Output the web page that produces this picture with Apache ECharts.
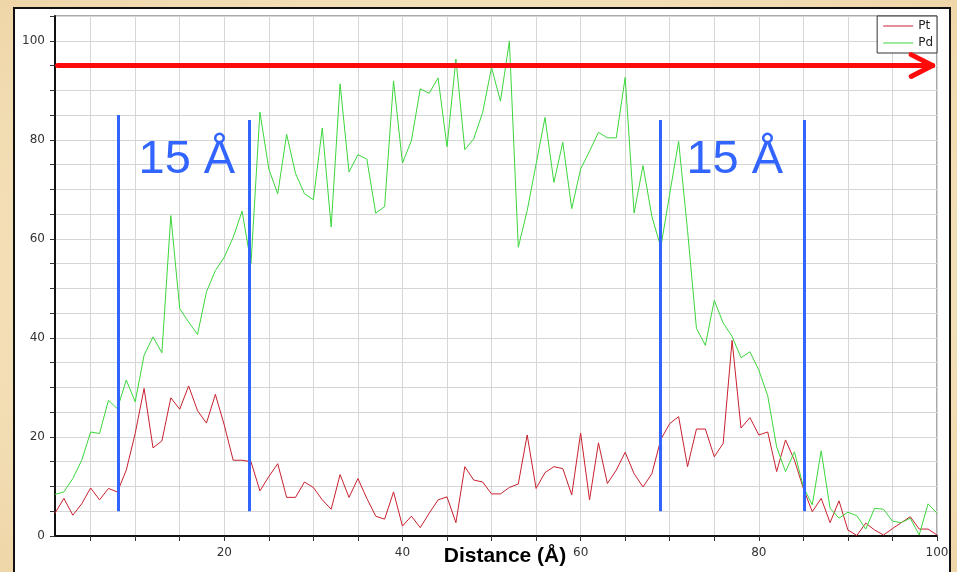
<!DOCTYPE html>
<html>
<head>
<meta charset="utf-8">
<script src="https://cdn.jsdelivr.net/npm/echarts@6/dist/echarts.min.js"></script>
<style>
    html, body { margin: 0; padding: 0; }
    body { background: radial-gradient(ellipse at center, #fbf0d9 0%, #f3dfb7 70%, #efd6a8 100%); }
    #charts { width: 957px; height: 572px; }
</style>
</head>
<body>
<div id="charts"></div>
<script>
var distance = [1, 2, 3, 4, 5, 6, 7, 8, 9, 10, 11, 12, 13, 14, 15, 16, 17, 18, 19, 20,
    21, 22, 23, 24, 25, 26, 27, 28, 29, 30, 31, 32, 33, 34, 35, 36, 37, 38, 39, 40,
    41, 42, 43, 44, 45, 46, 47, 48, 49, 50, 51, 52, 53, 54, 55, 56, 57, 58, 59, 60,
    61, 62, 63, 64, 65, 66, 67, 68, 69, 70, 71, 72, 73, 74, 75, 76, 77, 78, 79, 80,
    81, 82, 83, 84, 85, 86, 87, 88, 89, 90, 91, 92, 93, 94, 95, 96, 97, 98, 99, 100];

var pt = [4.6, 7.6, 4.2, 6.5, 9.7, 7.3, 9.6, 8.9, 13.3, 20.7,
    29.8, 17.8, 19.2, 27.9, 25.6, 30.3, 25.3, 22.8, 28.6, 22.4,
    15.3, 15.3, 15.0, 9.1, 12.0, 14.6, 7.8, 7.8, 10.9, 9.8,
    7.3, 5.4, 12.4, 7.8, 11.6, 7.6, 4.0, 3.4, 8.9, 2.0,
    4.0, 1.7, 4.6, 7.3, 7.9, 2.7, 14.0, 11.3, 10.9, 8.5,
    8.5, 9.8, 10.5, 20.4, 9.6, 12.8, 14.0, 13.6, 8.3, 20.8,
    7.3, 18.8, 10.6, 13.3, 16.9, 12.6, 9.9, 12.6, 19.5, 22.7,
    24.1, 14.0, 21.6, 21.6, 16.0, 18.7, 39.5, 21.8, 23.9, 20.4,
    21.0, 13.0, 19.4, 15.3, 9.6, 4.9, 7.6, 2.7, 7.1, 1.2,
    0.1, 2.6, 1.2, 0.2, 1.5, 2.7, 3.9, 1.4, 1.4, 0.2];

var pd = [8.4, 8.9, 11.6, 15.3, 21.0, 20.7, 27.4, 25.7, 31.5, 27.1,
    36.5, 40.2, 37.0, 64.7, 45.9, 43.2, 40.7, 49.3, 53.6, 56.3,
    60.3, 65.6, 55.0, 85.6, 74.1, 69.1, 81.1, 73.2, 69.1, 67.9,
    82.4, 62.4, 91.3, 73.5, 77.0, 76.1, 65.2, 66.5, 91.9, 75.3,
    79.8, 90.3, 89.4, 92.5, 78.6, 96.3, 78.0, 80.2, 85.5, 94.6,
    87.8, 99.9, 58.3, 65.7, 75.1, 84.5, 71.4, 79.5, 66.1, 74.1,
    77.7, 81.5, 80.4, 80.4, 92.6, 65.2, 74.8, 64.5, 58.3, 69.1,
    79.7, 61.7, 41.9, 38.5, 47.6, 43.0, 40.3, 36.0, 37.2, 33.5,
    28.3, 18.0, 13.0, 17.0, 9.9, 6.3, 17.2, 5.6, 3.6, 4.8,
    4.1, 1.4, 5.6, 5.4, 3.0, 2.7, 3.6, 0.2, 6.5, 4.6];

var xTicks = [5, 10, 15, 20, 25, 30, 35, 40, 45, 50, 55, 60, 65, 70, 75, 80, 85, 90, 95, 100];
var xLabels = [20, 40, 60, 80, 100];
var yLabels = [0, 20, 40, 60, 80, 100];

// 15 A windows: blue markers and their captions
var markerX = [8.13, 22.8, 68.97, 85.1];
var markerTop = [85, 84, 84, 84];
var markerBottom = 5;
var spanText = '15 Å';
var spanCenters = [15.8, 77.3];
var spanLevel = 76.0;

// red arrow along the top
var arrowLevel = 95;
var arrowFrom = 1.3;
var arrowTip = 99.5;
var arrowBack = 97.1;
var arrowSpread = 2.2;

function initLineChart() {
    var myChart = echarts.init(document.getElementById('charts'));

    function pairs(values) {
        var d = [];
        for (var i = 0; i < values.length; i++) {
            d.push([distance[i], values[i]]);
        }
        return d;
    }

    var redStyle = { color: '#ff0a0a', width: 5, type: 'solid', cap: 'round' };
    var blueStyle = { color: '#3264ff', width: 3, type: 'solid' };

    var lines = [
        [{ coord: [arrowFrom, arrowLevel], lineStyle: redStyle }, { coord: [arrowTip, arrowLevel] }],
        [{ coord: [arrowBack, arrowLevel + arrowSpread], lineStyle: redStyle }, { coord: [arrowTip, arrowLevel] }],
        [{ coord: [arrowBack, arrowLevel - arrowSpread], lineStyle: redStyle }, { coord: [arrowTip, arrowLevel] }]
    ];
    for (var k = 0; k < markerX.length; k++) {
        lines.push([
            { coord: [markerX[k], markerBottom], lineStyle: blueStyle },
            { coord: [markerX[k], markerTop[k]] }
        ]);
    }

    var captions = [];
    for (var j = 0; j < spanCenters.length; j++) {
        captions.push({ coord: [spanCenters[j], spanLevel], value: spanText });
    }

    var font = 'DejaVu Sans';

    var option = {
        animation: false,
        graphic: [{
            type: 'rect',
            z: -1,
            shape: { x: 14, y: 8, width: 936, height: 600 },
            style: { fill: '#ffffff', stroke: '#111', lineWidth: 2 }
        }],
        legend: {
            data: ['Pt', 'Pd'],
            orient: 'vertical',
            right: 20,
            top: 16,
            icon: 'rect',
            backgroundColor: '#ffffff',
            borderColor: '#333',
            borderWidth: 1,
            borderRadius: 0,
            padding: [4, 4, 4, 6],
            itemGap: 5,
            itemWidth: 30,
            itemHeight: 1,
            textStyle: { fontFamily: font, fontSize: 12, color: '#222' }
        },
        grid: {
            left: 55,
            right: 20,
            top: 16,
            bottom: 36,
            outerBoundsMode: 'none',
            containLabel: false,
            show: true,
            backgroundColor: '#ffffff',
            borderColor: '#555',
            borderWidth: 1
        },
        xAxis: {
            type: 'value',
            min: 1,
            max: 100,
            name: 'Distance (Å)',
            nameLocation: 'middle',
            nameGap: 10,
            nameMoveOverlap: false,
            nameTextStyle: {
                fontFamily: 'Liberation Sans',
                fontSize: 21,
                fontWeight: 'bold',
                color: '#000',
                padding: [0, 0, 0, 18]
            },
            axisLine: { show: true, lineStyle: { color: '#111', width: 2 } },
            axisTick: { show: true, customValues: xTicks, length: 5, lineStyle: { color: '#333' } },
            axisLabel: { customValues: xLabels, margin: 11, fontFamily: font, fontSize: 12, color: '#333' },
            splitLine: { show: true, lineStyle: { color: '#d6d6d6', width: 1 } }
        },
        yAxis: {
            type: 'value',
            min: 0,
            max: 105,
            interval: 5,
            axisLine: { show: true, lineStyle: { color: '#111', width: 2 } },
            axisTick: { show: true, length: 5, lineStyle: { color: '#333' } },
            axisLabel: { customValues: yLabels, margin: 10, fontFamily: font, fontSize: 12, color: '#333' },
            splitLine: { show: true, lineStyle: { color: '#d6d6d6', width: 1 } }
        },
        series: [
            {
                name: 'Pt',
                type: 'line',
                symbol: 'none',
                showSymbol: false,
                color: '#c8202e',
                lineStyle: { color: '#c8202e', width: 1 },
                data: pairs(pt)
            },
            {
                name: 'Pd',
                type: 'line',
                symbol: 'none',
                showSymbol: false,
                color: '#3cd63c',
                lineStyle: { color: '#3cd63c', width: 1 },
                data: pairs(pd)
            },
            {
                name: 'notes',
                type: 'line',
                data: [],
                z: 5,
                markLine: {
                    silent: true,
                    symbol: ['none', 'none'],
                    label: { show: false },
                    data: lines
                },
                markPoint: {
                    silent: true,
                    symbol: 'rect',
                    symbolSize: 1,
                    itemStyle: { color: 'transparent' },
                    label: {
                        show: true,
                        position: 'inside',
                        formatter: '{c}',
                        fontFamily: 'Liberation Sans',
                        fontSize: 47,
                        color: '#3264ff'
                    },
                    data: captions
                }
            }
        ]
    };
    myChart.setOption(option);
}
initLineChart();
</script>
</body>
</html>
